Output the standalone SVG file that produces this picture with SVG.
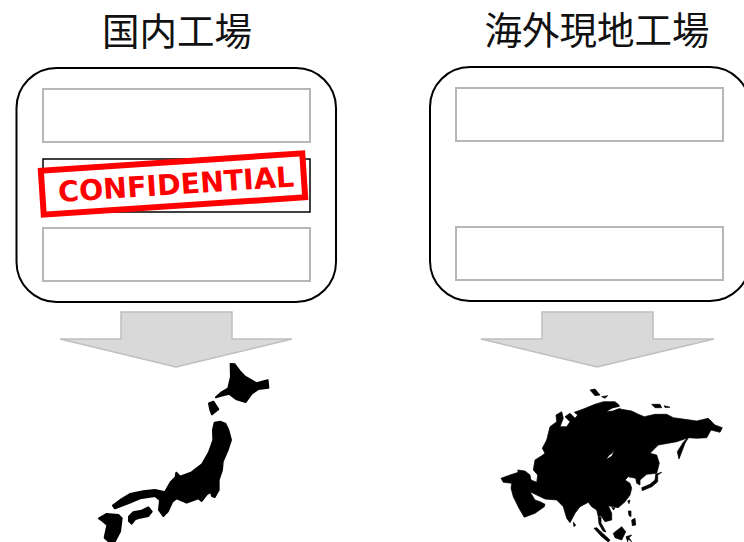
<svg xmlns="http://www.w3.org/2000/svg" width="744" height="542" viewBox="0 0 744 542">
<style>
.title{font-family:"Noto Sans CJK JP","Liberation Sans",sans-serif;font-size:37.5px;fill:#111;text-anchor:middle}
.panel{fill:#fff;stroke:#000;stroke-width:2}
.slot{fill:#fff;stroke:#b7b7b7;stroke-width:2}
.arrow{fill:#d9d9d9;stroke:#bfbfbf;stroke-width:1.5}
.map{fill:#000}
.jp path{stroke:#000;stroke-width:6;stroke-linejoin:round}
.as>path{stroke:#000;stroke-width:.7;stroke-linejoin:round}
</style>
<rect width="744" height="542" fill="#fff"/>
<g id="domestic">
<text class="title" x="177" y="45">国内工場</text>
<rect class="panel" x="16.5" y="68" width="319.5" height="234" rx="40"/>
<rect class="slot" x="43" y="89" width="267" height="53"/>
<rect x="43" y="159" width="267" height="53" fill="#fff" stroke="#000" stroke-width="1.5"/>
<rect class="slot" x="43" y="228" width="267" height="53"/>
</g>
<g id="stamp" transform="rotate(-3.8 173 184)">
<rect x="42" y="162" width="262" height="44" fill="#fff" stroke="#f00" stroke-width="6"/>
<text x="176" y="194.5" font-family="DejaVu Sans" font-weight="700" font-size="28.5" fill="#f00" text-anchor="middle">CONFIDENTIAL</text>
</g>
<g id="overseas">
<text class="title" x="597" y="44">海外現地工場</text>
<rect class="panel" x="430" y="67" width="320" height="234" rx="40"/>
<rect class="slot" x="456" y="88" width="267" height="53"/>
<rect class="slot" x="456" y="227" width="267" height="53"/>
</g>
<g id="connectors">
<path class="arrow" d="M121 312H232V339H292L176 367L60 339H121Z"/>
<path class="arrow" d="M542 312H653V339H714L597 367L481 339H542Z"/>
</g>
<g id="japan" class="map jp" transform="translate(80 355) scale(.3333)">
<path d="M452 27L464 28L478 47L495 65L530 85L563 76L565 98L535 102L515 116L497 141L470 133L447 116L420 123L408 127L425 112L445 100L453 65Z"/>
<path d="M387 145L400 140L415 163L396 178L391 165Z"/>
<path d="M404 203L420 200L436 206L445 225L453 255L443 285L428 320L426 345L416 375L416 405L404 426L396 423L393 410L380 418L365 438L355 430L320 443L290 430L277 440L263 470L250 483L237 465L240 435L225 423L180 430L150 443L105 460L99 452L125 432L150 417L190 409L225 405L255 412L272 382L287 367L289 353L300 365L335 352L367 327L387 292L400 255L399 225Z"/>
<path d="M147 485L160 472L185 467L205 457L215 470L205 483L180 488L165 493L155 506L147 498Z"/>
<path d="M57 490L80 477L115 480L125 490L120 530L105 558L85 558L74 548L82 510L67 497Z"/>
</g>
<g id="asia" class="map as">
<path d="M501 478.3L510 475L518.3 472.3L517.7 470L525 471L530 475L531 480L536.7 482.3L537.7 475L533.3 470L535 460L541.7 455.7L545 453.3L542.3 448.3L546.7 440L550 426.7L556.7 421.7L556 415L561.7 411.7L563.3 418.3L560 426.7L566.7 426.7L570 421.7L565 416.7L570 413.3L575 418.3L577.7 415L574.3 412.3L583.3 409L595 404.3L603.3 401.7L615 401.7L619 405L620 409L631.7 411L638.3 414.3L644.3 416.7L655 414.3L666.7 414.3L673.3 417.7L685 419.3L696.7 421L708.3 418.3L715 425L722.3 427.7L720 432.3L711 430L706.7 437.7L696.7 438.3L688.3 437.7L676.7 441.7L658.3 445L650 453.3L656.7 455L659.3 463.3L656.7 473.3L646.7 474.3L640 480L640 485L636.7 483.3L635.7 478.3L628.3 476.7L625 480L630 483.3L631.7 488.3L630 495L625 501.7L618.3 507.7L608.3 505.7L611.7 513.3L611.7 520L605 521.7L601 515.7L598.3 516.7L596.7 510L591.7 506.7L588.3 502.3L580 506.7L575 513.3L570 522.7L566.7 518.3L563.3 506.7L556.7 500L545 499L536.7 495L530 491.7L535 500L540 501.7L545 504.3L544.3 506.7L535 513.3L524.3 517.3L519 508.3L513.3 496.7L511 488.3L511.7 483.3L503.3 482.3Z"/>
<path d="M689 436.7L685 443.3L679 459L677.3 451.7L683.3 442.3L687 438.3Z"/>
<path d="M641.7 487.7L650 484.3L655 480L655.7 474.3L661.7 472.3L657.7 475L657.7 481.7L651.7 486.7L642.3 490.7Z"/>
<path d="M651.7 404.3L660 404.3L661.7 407.7L655 407.7ZM664.3 405.7L670 407.3L665 407.5ZM590 390L595 389L600 395L595 395.7ZM601.7 396.7L607.7 395.7L605 398.3Z"/>
<path d="M573.3 522.3L575.7 525L574 526.7ZM613.3 533.3L621.7 526.7L625.7 531.7L621.7 540L615 537.7ZM628.3 511L631 511L631 516.7L629 515.7ZM631.7 520L635 518.3L635.7 525L632.3 525.7ZM626 536.7L631.7 535L629 537.7L631.7 541.7L628.3 539L627.7 541.7ZM611.7 507.7L615 507.7L613.7 510ZM627.7 501L630 500L629 503.7Z"/>
<path d="M598.3 517L601 517L601 523L606 532L603 531L599 524ZM594 528.3L596.7 527.7L610 540L608.3 542L601.7 536.7Z"/>
<path fill="#fff" style="stroke:none" d="M614.3 450L611.7 455.7L606.7 459L609 455.7L612.3 453.3ZM620 406.5L612 408.5L607 411.5L613 410.5L620 408Z"/>
</g>
</svg>
